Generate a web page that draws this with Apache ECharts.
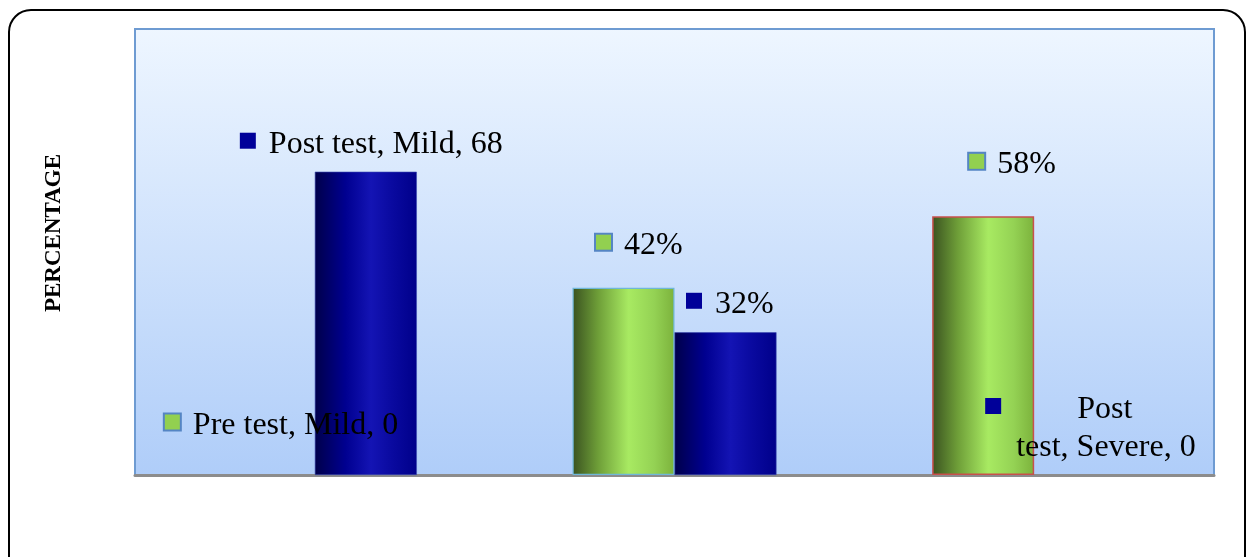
<!DOCTYPE html>
<html>
<head>
<meta charset="utf-8">
<script src="https://cdn.jsdelivr.net/npm/echarts@6/dist/echarts.min.js"></script>
<style>
html,body{margin:0;padding:0;background:#fff;}
#chart{width:1246px;height:557px;}
</style>
</head>
<body>
<div id="chart"></div>
<script>
// ---- data ----
const categories = ['Mild', 'Moderate', 'Severe'];
const seriesNames = ['Pre test', 'Post test'];
const preTest = [0, 42, 58];
const postTest = [68, 32, 0];
const axisName = 'PERCENTAGE';
const yMin = 0;
const yMax = 100;

// ---- presentation ----
const FONT = '"Liberation Serif", "Times New Roman", serif';
const preLabelKind = ['full', 'pct', 'pct'];
const postLabelKind = ['full', 'pct', 'wrap'];
const preLabelPos = [[-48, -53], [23.5, -45.5], [37, -55]];
const postLabelPos = [[-75, -31], [11.5, -31.5], [-49, -50]];

const greenGrad = new echarts.graphic.LinearGradient(0, 0, 1, 0, [
  {offset: 0, color: '#3A5220'},
  {offset: 0.25, color: '#6E9E38'},
  {offset: 0.55, color: '#A8EA62'},
  {offset: 0.8, color: '#94D254'},
  {offset: 1, color: '#7CB23C'}
]);
const navyGrad = new echarts.graphic.LinearGradient(0, 0, 1, 0, [
  {offset: 0, color: '#00004A'},
  {offset: 0.3, color: '#000090'},
  {offset: 0.55, color: '#1414B4'},
  {offset: 0.75, color: '#0A0AA0'},
  {offset: 1, color: '#00008A'}
]);

const rich = {
  gb: {width: 15, height: 15, backgroundColor: '#92D050', borderColor: '#5585C4', borderWidth: 2},
  nb: {width: 16, height: 16, backgroundColor: '#000099'},
  t: {fontSize: 32, fontFamily: FONT, color: '#000', padding: [7, 0, 0, 13], lineHeight: 38},
  t2: {fontSize: 32, fontFamily: FONT, color: '#000', padding: [7, 0, 0, 0], lineHeight: 38},
  sp1: {width: 76, height: 10},
  sp2: {width: 31, height: 10}
};

function makeLabel(kind, pos, box, sName, cat, val) {
  let fmt;
  if (kind === 'full') fmt = '{' + box + '|}{t|' + sName + ', ' + cat + ', ' + val + '}';
  else if (kind === 'pct') fmt = '{' + box + '|}{t|' + val + '%}';
  else {
    const words = sName.split(' ');
    fmt = '{' + box + '|}{sp1|}{t2|' + words[0] + '}\n{sp2|}{t2|' + words.slice(1).join(' ') + ', ' + cat + ', ' + val + '}';
  }
  return {
    show: true,
    position: pos,
    align: 'left',
    verticalAlign: 'middle',
    formatter: fmt,
    rich: rich
  };
}

const preBorders = [{c: '#6FB7D8', w: 1}, {c: '#6FB7D8', w: 1.2}, {c: '#C8504D', w: 1.5}];

const preData = preTest.map((v, i) => ({
  value: v,
  itemStyle: {color: greenGrad, borderColor: preBorders[i].c, borderWidth: v === 0 ? 0 : preBorders[i].w},
  label: makeLabel(preLabelKind[i], preLabelPos[i], 'gb', seriesNames[0], categories[i], v)
}));
const postData = postTest.map((v, i) => ({
  value: v,
  itemStyle: {color: navyGrad, borderColor: '#3A4AB0', borderWidth: v === 0 ? 0 : 0.6},
  label: makeLabel(postLabelKind[i], postLabelPos[i], 'nb', seriesNames[1], categories[i], v)
}));

const chart = echarts.init(document.getElementById('chart'));
chart.setOption({
  animation: false,
  backgroundColor: '#fff',
  textStyle: {fontFamily: FONT},
  graphic: [{
    type: 'rect',
    z: -10,
    shape: {x: 9, y: 10, width: 1236, height: 590, r: 22},
    style: {fill: 'none', stroke: '#000', lineWidth: 2}
  }],
  grid: {
    left: 135, right: 32, top: 29, bottom: 82,
    show: true,
    backgroundColor: new echarts.graphic.LinearGradient(0, 0, 0, 1, [
      {offset: 0, color: '#EEF6FF'},
      {offset: 1, color: '#AFCDF9'}
    ]),
    borderColor: '#6E9BD2',
    borderWidth: 2
  },
  xAxis: {
    type: 'category',
    data: categories,
    axisLabel: {show: false},
    axisTick: {show: false},
    axisLine: {show: true, lineStyle: {color: '#8C8C8C', width: 3}},
    splitLine: {show: false}
  },
  yAxis: {
    type: 'value',
    min: yMin,
    max: yMax,
    name: axisName,
    nameLocation: 'middle',
    nameRotate: 90,
    nameGap: 69,
    nameTextStyle: {fontSize: 23, fontWeight: 'bold', fontFamily: FONT, color: '#000', padding: [0, 0, 0, 38]},
    axisLabel: {show: false},
    axisTick: {show: false},
    axisLine: {show: false},
    splitLine: {show: false}
  },
  series: [
    {name: seriesNames[0], type: 'bar', data: preData, barWidth: 102, barGap: '0%'},
    {name: seriesNames[1], type: 'bar', data: postData, barWidth: 102, barGap: '0%'}
  ]
});
</script>
</body>
</html>
